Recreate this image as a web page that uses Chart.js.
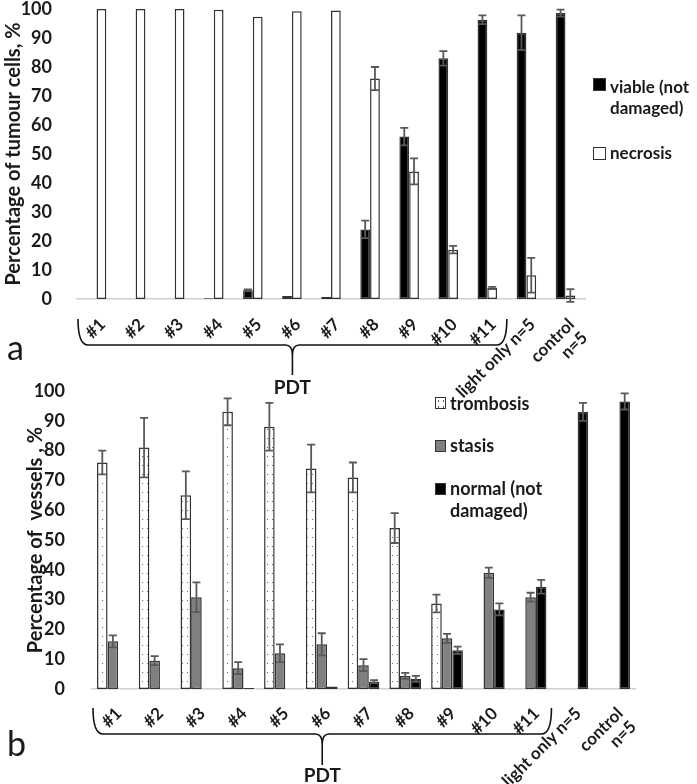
<!DOCTYPE html>
<html>
<head>
<meta charset="utf-8">
<script src="https://cdn.jsdelivr.net/npm/chart.js@4.4.1/dist/chart.umd.min.js"></script>
<style>
body{margin:0;background:#fff;width:697px;height:784px;position:relative;overflow:hidden;font-family:Lato,"Open Sans",sans-serif;color:#1a1a1a;}
canvas{position:absolute;left:0;}
#chartA{top:0;}
#chartB{top:380px;}
.panel{position:absolute;font-size:34px;line-height:34px;}
.leg{position:absolute;font-weight:bold;white-space:nowrap;}
.sq{position:absolute;box-sizing:border-box;border:1px solid #333;}
</style>
</head>
<body>
<canvas id="chartA" width="697" height="400"></canvas>
<canvas id="chartB" width="697" height="404"></canvas>

<div class="panel" style="left:7px;top:330px;">a</div>
<div class="panel" style="left:7px;top:726px;">b</div>

<!-- legend a -->
<div class="sq" style="left:593px;top:78px;width:13px;height:13px;background:#000;"></div>
<div class="leg" style="left:610px;top:76px;font-size:17px;line-height:21px;">viable (not<br>damaged)</div>
<div class="sq" style="left:593px;top:147px;width:13px;height:13px;background:#fff;"></div>
<div class="leg" style="left:610px;top:142px;font-size:17px;line-height:21px;">necrosis</div>

<!-- legend b -->
<div class="sq" style="left:435px;top:397px;width:11px;height:12px;background:#fff;background-image:radial-gradient(#666 0.7px,transparent 0.9px);background-size:5px 6px;"></div>
<div class="leg" style="left:450px;top:392px;font-size:18px;line-height:22px;">trombosis</div>
<div class="sq" style="left:435px;top:440px;width:11px;height:12px;background:#808080;"></div>
<div class="leg" style="left:450px;top:434px;font-size:18px;line-height:22px;">stasis</div>
<div class="sq" style="left:435px;top:483px;width:11px;height:12px;background:#000;"></div>
<div class="leg" style="left:450px;top:477px;font-size:18px;line-height:22px;">normal (not<br>damaged)</div>

<script>
// categories (same for both panels)
const categories = ['#1', '#2', '#3', '#4', '#5', '#6', '#7', '#8', '#9', '#10', '#11', 'light only n=5', ['control', 'n=5']];

// panel a - tumour cells, %
const viable       = [0, 0, 0, 0.3, 3, 1, 0.7, 24, 56, 83, 96.3, 91.8, 98.6];
const viableErr    = [0, 0, 0, 0, 0.3, 0, 0, 3, 3, 2.5, 1.5, 6, 1.2];
const necrosis     = [100, 100, 100, 99.7, 97.3, 99.2, 99.5, 76, 44, 17, 3.8, 8.2, 1.2];
const necrosisErr  = [0, 0, 0, 0, 0, 0, 0, 4, 4.5, 1.3, 0.4, 6, 2.2];

// panel b - vessels, %
const trombosis    = [76, 81, 65, 93, 88, 74, 71, 54, 28.7, null, null, null, null];
const trombosisErr = [4, 10, 8, 4.5, 8, 8, 5, 5, 3, 0, 0, 0, 0];
const stasis       = [16, 9.5, 30.8, 7, 12, 15, 8, 4.4, 17, 39, 30.8, null, null];
const stasisErr    = [2, 1.5, 5, 2, 3, 3.7, 2, 1, 1.5, 1.7, 1.5, 0, 0];
const normal       = [null, null, null, 0.3, null, 0.8, 2.5, 3.4, 13, 26.7, 34.3, 93, 96.5];
const normalErr    = [0, 0, 0, 0, 0, 0, 0.5, 1, 1.2, 2, 2.3, 3, 2.7];

const yTicks = [0, 10, 20, 30, 40, 50, 60, 70, 80, 90, 100];

const FONT = 'Lato';
const TXT = '#1a1a1a';

// error bars
const errorBars = {
  id: 'errorBars',
  afterDatasetsDraw(chart) {
    const ctx = chart.ctx, y = chart.scales.y;
    ctx.save();
    ctx.strokeStyle = '#595959';
    ctx.lineWidth = 1.8;
    chart.data.datasets.forEach((ds, i) => {
      const meta = chart.getDatasetMeta(i);
      meta.data.forEach((bar, j) => {
        const v = ds.data[j], e = ds.errors[j];
        if (v == null || !e) return;
        const y1 = y.getPixelForValue(v + e), y2 = y.getPixelForValue(v - e);
        ctx.beginPath();
        ctx.moveTo(bar.x, y1); ctx.lineTo(bar.x, y2);
        ctx.moveTo(bar.x - 4, y1); ctx.lineTo(bar.x + 4, y1);
        ctx.moveTo(bar.x - 4, y2); ctx.lineTo(bar.x + 4, y2);
        ctx.stroke();
      });
    });
    ctx.restore();
  }
};

// curly brace under PDT groups
const brace = {
  id: 'brace',
  afterDraw(chart, args, o) {
    const ctx = chart.ctx, x = chart.scales.x;
    const half = (x.getPixelForValue(1) - x.getPixelForValue(0)) / 2;
    const l = x.getPixelForValue(o.from) - half + 1, r = x.getPixelForValue(o.to) + half;
    const cx = (l + r) / 2, b = chart.chartArea.bottom;
    const t = b + o.endTop, h = b + o.line, tip = b + o.tip;
    ctx.save();
    ctx.strokeStyle = '#111';
    ctx.lineWidth = 1.6;
    ctx.beginPath();
    ctx.moveTo(l, t);
    ctx.quadraticCurveTo(l, h, l + 10, h);
    ctx.lineTo(cx - 7, h);
    ctx.quadraticCurveTo(cx, h, cx, h + 10);
    ctx.lineTo(cx, tip);
    ctx.moveTo(cx, h + 10);
    ctx.quadraticCurveTo(cx, h, cx + 7, h);
    ctx.lineTo(r - 10, h);
    ctx.quadraticCurveTo(r, h, r, t);
    ctx.stroke();
    ctx.fillStyle = TXT;
    ctx.font = 'bold 19px ' + FONT;
    ctx.textAlign = 'center';
    ctx.textBaseline = 'middle';
    ctx.fillText('PDT', cx, b + o.text);
    ctx.restore();
  }
};

function axes(yWidth, xHeight, tickPad, xPad, title) {
  return {
    x: {
      grid: { display: false },
      border: { display: true, color: '#d0d0d0', width: 1.5 },
      ticks: { autoSkip: false, minRotation: 45, maxRotation: 45, padding: xPad, labelOffset: 6,
               color: TXT, font: { family: FONT, size: 17, weight: 'bold', lineHeight: 1.1 } },
      afterFit(s) { s.height = xHeight; }
    },
    y: {
      min: 0, max: 100,
      afterBuildTicks(s) { s.ticks = yTicks.map(v => ({ value: v })); },
      grid: { display: false },
      border: { display: false },
      ticks: { padding: tickPad, color: TXT, font: { family: FONT, size: 18, weight: 'bold', lineHeight: 1 } },
      title: { display: true, text: title, color: TXT, padding: 2,
               font: { family: FONT, size: 20, weight: 'bold' } },
      afterFit(s) { s.width = yWidth; s.paddingTop = 4; s.paddingBottom = 4; }
    }
  };
}

new Chart(document.getElementById('chartA'), {
  type: 'bar',
  data: {
    labels: categories,
    datasets: [
      { label: 'viable (not damaged)', data: viable, errors: viableErr,
        backgroundColor: '#000', borderColor: '#333', borderWidth: 1.5, borderSkipped: false },
      { label: 'necrosis', data: necrosis, errors: necrosisErr,
        backgroundColor: '#fff', borderColor: '#333', borderWidth: 1.5, borderSkipped: false }
    ]
  },
  options: {
    responsive: false,
    animation: false,
    datasets: { bar: { categoryPercentage: 0.5, barPercentage: 1 } },
    layout: { padding: { top: 9, right: 112, left: 0, bottom: 0 } },
    plugins: {
      legend: { display: false },
      tooltip: { enabled: false },
      brace: { from: 0, to: 10, endTop: 20, line: 46, tip: 76, text: 89 }
    },
    scales: axes(77, 101, 17, 8, 'Percentage of tumour cells, %')
  },
  plugins: [errorBars, brace]
});

// dotted fill for trombosis
const ctxB = document.getElementById('chartB').getContext('2d');
const tile = document.createElement('canvas');
tile.width = 5; tile.height = 9;
const tg = tile.getContext('2d');
tg.fillStyle = '#fff'; tg.fillRect(0, 0, 5, 9);
tg.fillStyle = '#6a6a6a'; tg.fillRect(2, 4, 1, 1);
const dots = ctxB.createPattern(tile, 'repeat');

new Chart(ctxB, {
  type: 'bar',
  data: {
    labels: categories,
    datasets: [
      { label: 'trombosis', data: trombosis, errors: trombosisErr,
        backgroundColor: dots, borderColor: '#333', borderWidth: 1.5, borderSkipped: false },
      { label: 'stasis', data: stasis, errors: stasisErr,
        backgroundColor: '#808080', borderColor: '#333', borderWidth: 1.5, borderSkipped: false },
      { label: 'normal (not damaged)', data: normal, errors: normalErr,
        backgroundColor: '#000', borderColor: '#333', borderWidth: 1.5, borderSkipped: false }
    ]
  },
  options: {
    responsive: false,
    animation: false,
    datasets: { bar: { categoryPercentage: 0.76, barPercentage: 1 } },
    layout: { padding: { top: 11, right: 62, left: 22, bottom: 0 } },
    plugins: {
      legend: { display: false },
      tooltip: { enabled: false },
      brace: { from: 0, to: 10, endTop: 19, line: 45, tip: 76, text: 87 }
    },
    scales: axes(70, 95, 19, 7, 'Percentage of  vessels , %')
  },
  plugins: [errorBars, brace]
});
</script>
</body>
</html>
